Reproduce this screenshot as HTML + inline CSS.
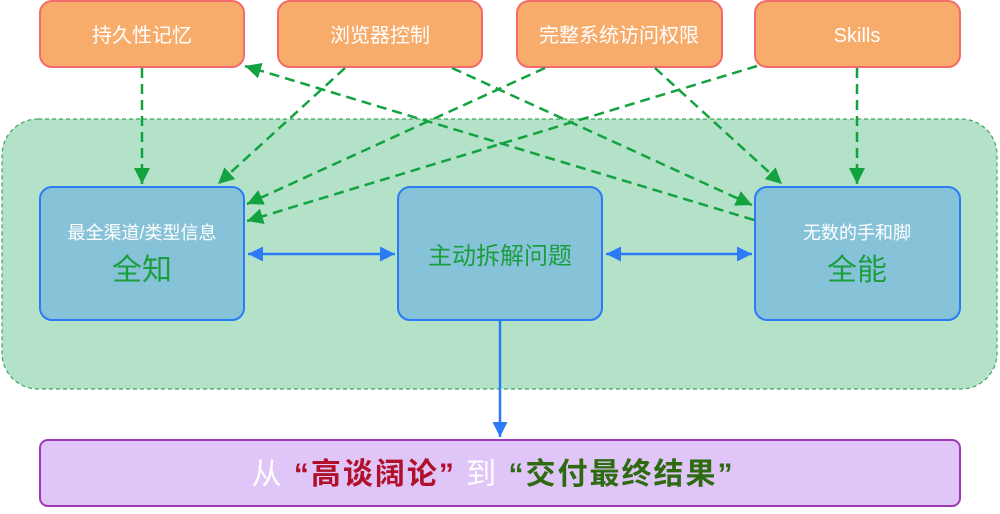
<!DOCTYPE html>
<html><head><meta charset="utf-8"><style>
body{margin:0;width:1000px;height:509px;background:#fff;overflow:hidden;font-family:"Liberation Sans","Noto Sans CJK SC",sans-serif;}
</style></head><body>
<svg width="1000" height="509" xmlns="http://www.w3.org/2000/svg" font-family="Liberation Sans, Noto Sans CJK SC, sans-serif">
<defs>
<marker id="ga" viewBox="0 0 10 10" markerWidth="16" markerHeight="16" refX="10" refY="5" orient="auto" markerUnits="userSpaceOnUse"><path d="M0,0 L10,5 L0,10 Z" fill="#12A23F"/></marker>
<marker id="ba" viewBox="0 0 10 10" markerWidth="15" markerHeight="15" refX="10" refY="5" orient="auto-start-reverse" markerUnits="userSpaceOnUse"><path d="M0,0 L10,5 L0,10 Z" fill="#2A7BF5"/></marker>
</defs>
<rect x="2" y="119" width="995" height="270" rx="36" fill="#B3E2C9" stroke="#3DA860" stroke-width="1.2" stroke-dasharray="4,3"/>
<g fill="#F7AC6C" stroke="#F46B6B" stroke-width="2">
<rect x="40" y="1" width="204" height="66" rx="12"/>
<rect x="278" y="1" width="204" height="66" rx="12"/>
<rect x="517" y="1" width="205" height="66" rx="12"/>
<rect x="755" y="1" width="205" height="66" rx="12"/>
</g>
<g fill="#fff" font-size="20" text-anchor="middle">
<text x="142" y="42">持久性记忆</text>
<text x="380" y="42">浏览器控制</text>
<text x="619" y="42">完整系统访问权限</text>
<text x="857" y="42">Skills</text>
</g>
<g fill="#87C3D8" stroke="#2A7BF5" stroke-width="2">
<rect x="40" y="187" width="204" height="133" rx="12"/>
<rect x="398" y="187" width="204" height="133" rx="12"/>
<rect x="755" y="187" width="205" height="133" rx="12"/>
</g>
<g text-anchor="middle">
<text x="142" y="239" fill="#fff" font-size="18">最全渠道/类型信息</text>
<text x="142" y="280" fill="#1A9E3E" font-size="30">全知</text>
<text x="500" y="264" fill="#1A9E3E" font-size="24">主动拆解问题</text>
<text x="857" y="239" fill="#fff" font-size="18">无数的手和脚</text>
<text x="857" y="280" fill="#1A9E3E" font-size="30">全能</text>
</g>
<g stroke="#12A23F" stroke-width="2.5" stroke-dasharray="10,6" fill="none" marker-end="url(#ga)">
<line x1="142" y1="68" x2="142" y2="184"/>
<line x1="345" y1="68" x2="218" y2="184"/>
<line x1="452" y1="68" x2="752" y2="205"/>
<line x1="545" y1="68" x2="247" y2="204"/>
<line x1="655" y1="68" x2="782" y2="184"/>
<line x1="757" y1="66" x2="247" y2="221"/>
<line x1="857" y1="68" x2="857" y2="184"/>
<line x1="754" y1="220" x2="245" y2="66"/>
</g>
<g stroke="#2A7BF5" stroke-width="2.5" fill="none">
<line x1="248" y1="254" x2="395" y2="254" marker-start="url(#ba)" marker-end="url(#ba)"/>
<line x1="606" y1="254" x2="752" y2="254" marker-start="url(#ba)" marker-end="url(#ba)"/>
<line x1="500" y1="321" x2="500" y2="437" marker-end="url(#ba)"/>
</g>
<rect x="40" y="440" width="920" height="66" rx="8" fill="#E0C6F8" stroke="#A038B8" stroke-width="2"/>
<text x="493" y="484" text-anchor="middle" font-size="30" font-weight="bold" letter-spacing="2"><tspan fill="#fff" font-weight="normal">从 </tspan><tspan fill="#B0102A">“高谈阔论”</tspan><tspan fill="#fff" font-weight="normal"> 到 </tspan><tspan fill="#2E6B10">“交付最终结果”</tspan></text>
</svg>
</body></html>
